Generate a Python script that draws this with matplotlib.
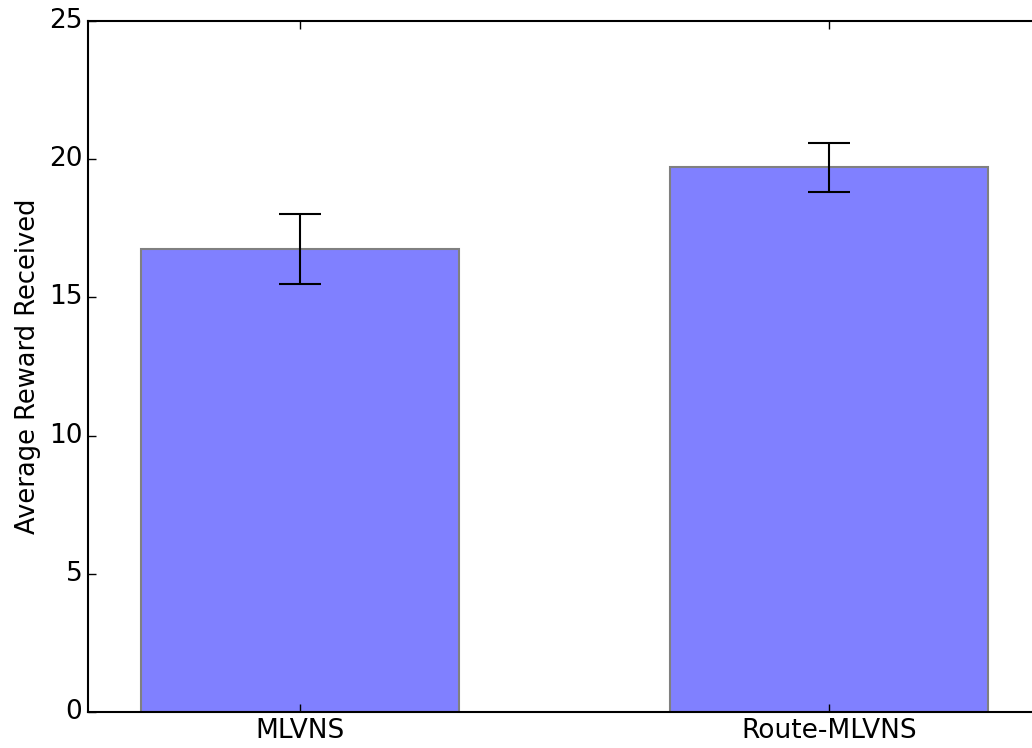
import matplotlib
matplotlib.use("Agg")
import matplotlib.pyplot as plt
import numpy as np

methods = ["MLVNS", "Route-MLVNS"]
avg_reward = [16.75, 19.70]
reward_err = [1.27, 0.89]

plt.style.use("classic")

fig = plt.figure(figsize=(10.32, 7.48), dpi=100)
# right side of the axes runs past the figure edge, as in the reference
ax = fig.add_axes([88 / 1032, 36 / 748, 953 / 1032, 691 / 748])

x = np.arange(len(methods))
ax.bar(x, avg_reward, width=0.6, color="#8080ff", edgecolor="#808080",
       linewidth=1.5, align="center")
ax.errorbar(x, avg_reward, yerr=reward_err, fmt="none", ecolor="black",
            elinewidth=1.5, capsize=15, capthick=1.5)

ax.set_xlim(-0.4, 1.4)
ax.set_ylim(0, 25)
ax.set_xticks(x)
ax.set_xticklabels(methods)
ax.set_yticks([0, 5, 10, 15, 20, 25])
ax.tick_params(axis="both", which="major", labelsize=19, direction="in", length=6, width=1)
ax.set_ylabel("Average Reward Received", fontsize=18.5, labelpad=6)
for s in ax.spines.values():
    s.set_linewidth(1.5)

fig.savefig("out.png", dpi=100)
